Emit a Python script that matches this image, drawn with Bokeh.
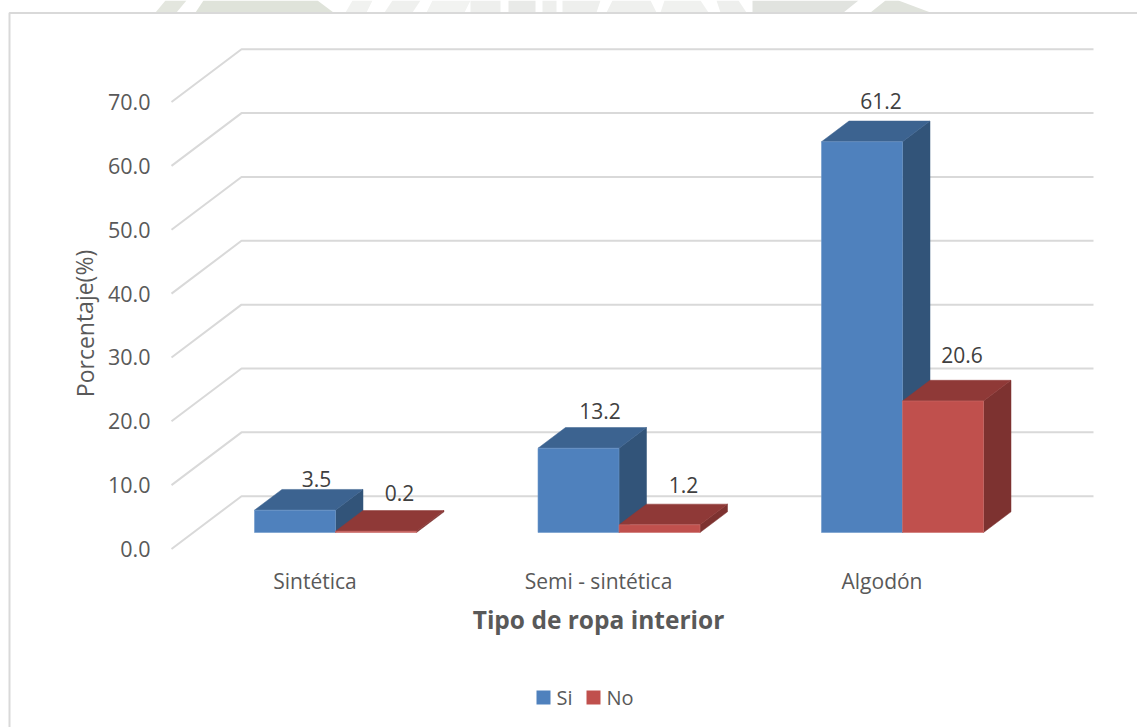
from bokeh.core.properties import value
from bokeh.embed import file_html
from bokeh.models import Range1d
from bokeh.plotting import figure
from bokeh.resources import INLINE

categories = ["Sintética", "Semi - sintética", "Algodón"]
si_values = [3.5, 13.2, 61.2]
no_values = [0.2, 1.2, 20.6]
tick_values = [0, 10, 20, 30, 40, 50, 60, 70]

# Oblique projection used for the 3-D look, in canvas pixels.
WIDTH, HEIGHT = 1137, 727
BASE_Y = 532.0          # canvas row of value 0 at the front of the bars
UNIT = 6.385            # pixels per percentage point
BAR_W = 81.0
BAR_DX, BAR_DY = 27.5, 20.7
WALL_X0, WALL_X1 = 241.0, 1093.0
WALL_BASE_Y, FLOOR_BASE_Y, FLOOR_X = 495.7, 548.5, 171.0
GROUP_LEFT, GROUP_STEP = 254.0, 283.5
FONT = value("Open Sans")


def lift(px):
    """Canvas-pixel height expressed in value units."""
    return px / UNIT


p = figure(
    width=WIDTH, height=HEIGHT, output_backend="svg", toolbar_location=None,
    x_range=Range1d(0, WIDTH),
    y_range=Range1d(-(HEIGHT - BASE_Y) / UNIT, BASE_Y / UNIT),
    min_border=0, outline_line_color=None, background_fill_color="white",
)
p.xaxis.visible = False
p.yaxis.visible = False
p.grid.visible = False


def row(y_px):
    """Value-axis coordinate of a canvas row."""
    return (BASE_Y - y_px) / UNIT


# Faint letterhead crest showing above the chart area.
crest = [
    ([165, 186, 176, 155], "#e3e6de"),
    ([203, 317, 333, 195], "#dfe3da"),
    ([352, 372, 366, 345], "#f1f2f0"),
    ([392, 420, 412, 384], "#eff0ee"),
    ([432, 470, 464, 426], "#f2f3f1"),
    ([470, 500, 500, 470], "#eeefed"),
    ([508, 535, 535, 508], "#e9eae8"),
    ([542, 556, 556, 542], "#eeefed"),
    ([562, 600, 596, 562], "#eeefed"),
    ([612, 650, 656, 606], "#eff0ee"),
    ([664, 700, 708, 660], "#f0f1ef"),
    ([716, 738, 746, 720], "#eeefed"),
    ([752, 858, 843, 752], "#e1e3df"),
    ([885, 898, 930, 870], "#e0e3dc"),
]
for xs, colour in crest:
    p.patch(xs, [row(0), row(0), row(12), row(12)], fill_color=colour, line_color=None)

# Chart area border: top and left edges.
p.line([9, 9, WIDTH], [row(HEIGHT), row(12.5), row(12.5)], line_color="#d9d9d9", line_width=2)

# Back wall gridlines with their slanted run down the side wall.
wall_lift = lift(BASE_Y - WALL_BASE_Y)
floor_lift = lift(BASE_Y - FLOOR_BASE_Y)
for t in tick_values:
    p.line([FLOOR_X, WALL_X0, WALL_X1],
           [t + floor_lift, t + wall_lift, t + wall_lift],
           line_color="#d9d9d9", line_width=2)


def draw_bar(left, v, front, top, side, edge):
    right = left + BAR_W
    dx, dy = BAR_DX, lift(BAR_DY)
    p.patch([right, right + dx, right + dx, right], [0, dy, v + dy, v],
            fill_color=side, line_color=side, line_width=0.5)
    p.patch([left, left + dx, right + dx, right], [v, v + dy, v + dy, v],
            fill_color=top, line_color=top, line_width=0.5)
    p.quad(left=left, right=right, bottom=0, top=v,
           fill_color=front, line_color=edge, line_width=0.6)


BLUE = ("#4f81bd", "#3c6390", "#325479", "#6d97c9")
RED = ("#c0504d", "#8f3937", "#7d3230", "#cb6d6a")

for i, (si, no) in enumerate(zip(si_values, no_values)):
    left = GROUP_LEFT + GROUP_STEP * i
    draw_bar(left, si, *BLUE)
    draw_bar(left + BAR_W, no, *RED)

# Value labels, each with a hand-set nudge from its bar's front top corner.
si_nudges = [(62, 31.6), (62, 37.7), (59.4, 40.4)]
no_nudges = [(64, 38), (64.5, 40.3), (59.6, 46.4)]
for i, (si, no) in enumerate(zip(si_values, no_values)):
    left = GROUP_LEFT + GROUP_STEP * i
    for v, x0, (nx, ny) in ((si, left, si_nudges[i]), (no, left + BAR_W, no_nudges[i])):
        p.text([x0 + nx], [v + lift(ny)], text=[f"{v:.1f}"], text_font=FONT,
               text_font_size="21px", text_color="#404040",
               text_align="center", text_baseline="middle")

# Value-axis tick labels, aligned with the front ends of the side-wall lines.
for t in tick_values:
    p.text([150], [t + floor_lift], text=[f"{t:.1f}"], text_font=FONT,
           text_font_size="21.5px", text_color="#595959",
           text_align="right", text_baseline="middle")

# Category labels.
for i, name in enumerate(categories):
    p.text([GROUP_LEFT + BAR_W - 20.5 + GROUP_STEP * i], [row(580)], text=[name], text_font=FONT,
           text_font_size="21px", text_color="#595959",
           text_align="center", text_baseline="middle")

# Axis titles.
p.text([84], [row(323)], text=["Porcentaje(%)"], text_font=FONT, angle=1.5708,
       text_font_size="23px", text_color="#595959",
       text_align="center", text_baseline="middle")
p.text([598], [row(619)], text=["Tipo de ropa interior"], text_font=FONT,
       text_font_size="24.5px", text_font_style="bold", text_color="#595959",
       text_align="center", text_baseline="middle")

# Legend.
for x0, label, colour in ((536, "Si", BLUE[0]), (586, "No", RED[0])):
    p.quad(left=x0, right=x0 + 14, top=row(690), bottom=row(704),
           fill_color=colour, line_color=None)
    p.text([x0 + 20], [row(697)], text=[label], text_font=FONT,
           text_font_size="20px", text_color="#595959",
           text_align="left", text_baseline="middle")

open("out.html", "w").write(file_html(p, INLINE))
